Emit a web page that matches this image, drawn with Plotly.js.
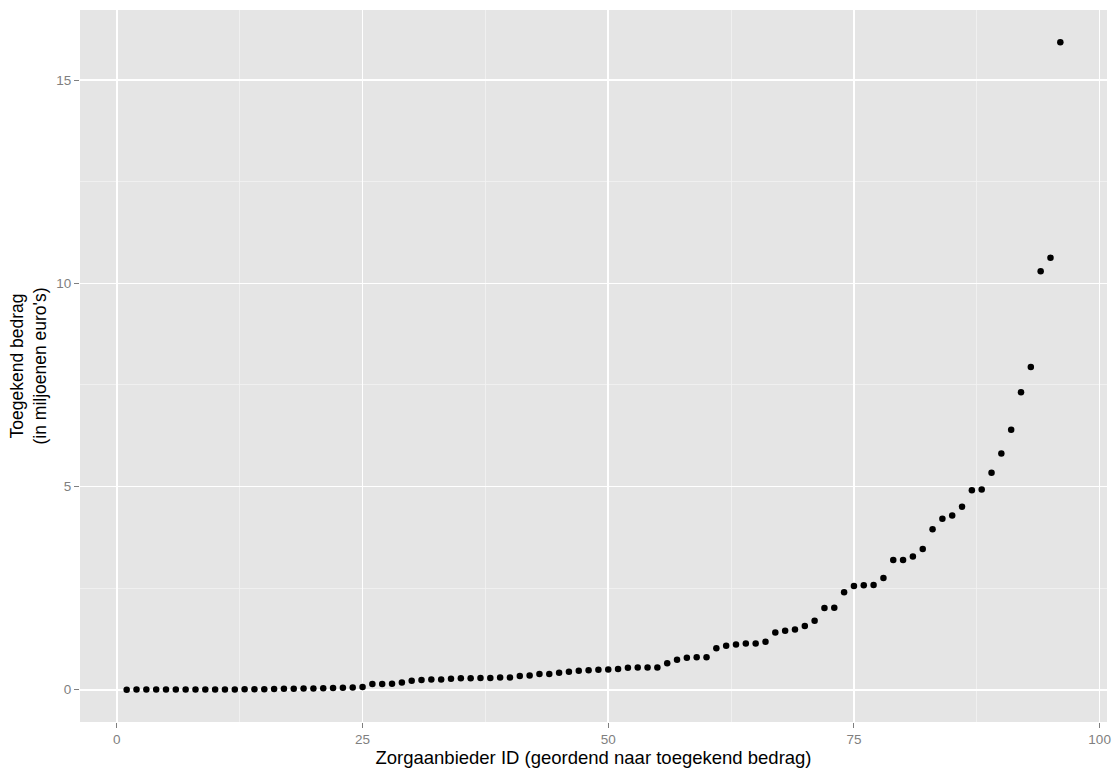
<!DOCTYPE html>
<html>
<head>
<meta charset="utf-8">
<script src="https://cdn.plot.ly/plotly-3.0.1.min.js"></script>
<style>
  html, body { margin: 0; padding: 0; background: #ffffff; }
  #chart { width: 1118px; height: 774px; }
</style>
</head>
<body>
<div id="chart"></div>
<script>
// Zorgaanbieder ID (ordered by awarded amount)
const providerIds = Array.from({length: 96}, (_, i) => i + 1);
// Awarded amount in millions of euros
const awardedAmounts = [
  0.002, 0.003, 0.003, 0.004, 0.004, 0.005, 0.005, 0.006, 0.006, 0.007,
  0.008, 0.008, 0.009, 0.010, 0.012, 0.015, 0.022, 0.025, 0.028, 0.032,
  0.038, 0.041, 0.047, 0.055, 0.068, 0.14, 0.14, 0.15, 0.18, 0.22,
  0.24, 0.25, 0.25, 0.27, 0.28, 0.28, 0.29, 0.29, 0.30, 0.30,
  0.34, 0.35, 0.39, 0.39, 0.42, 0.44, 0.47, 0.48, 0.49, 0.50,
  0.51, 0.54, 0.55, 0.55, 0.55, 0.65, 0.74, 0.79, 0.80, 0.80,
  1.02, 1.08, 1.11, 1.14, 1.14, 1.18, 1.41, 1.45, 1.48, 1.57,
  1.70, 2.01, 2.02, 2.40, 2.55, 2.57, 2.58, 2.75, 3.19, 3.19,
  3.28, 3.46, 3.95, 4.21, 4.29, 4.50, 4.91, 4.93, 5.34, 5.81,
  6.40, 7.32, 7.94, 10.30, 10.63, 15.93
];
const xTickVals = [0, 25, 50, 75, 100];
const xTickText = ['0', '25', '50', '75', '100'];
const yTickVals = [0, 5, 10, 15];
const yTickText = ['0', '5', '10', '15'];
const xTitle = 'Zorgaanbieder ID (geordend naar toegekend bedrag)';
const yTitle = 'Toegekend bedrag<br>(in miljoenen euro\'s)';

const FONT = '"Liberation Sans", Arial, Helvetica, sans-serif';

const trace = {
  type: 'scatter',
  mode: 'markers',
  x: providerIds,
  y: awardedAmounts,
  marker: { color: '#000000', size: 6.5, line: { width: 0 } },
  hoverinfo: 'x+y'
};

const axisCommon = {
  showline: false,
  zeroline: false,
  showgrid: true,
  gridcolor: '#ffffff',
  gridwidth: 1.6,
  ticks: 'outside',
  ticklen: 5,
  tickwidth: 1.1,
  tickcolor: '#7f7f7f',
  tickfont: { family: FONT, size: 13.5, color: '#7f7f7f' },
  tickmode: 'array'
};

const layout = {
  width: 1118,
  height: 774,
  paper_bgcolor: '#ffffff',
  plot_bgcolor: '#e5e5e5',
  margin: { l: 80, r: 11, t: 10, b: 52 },
  showlegend: false,
  font: { family: FONT },
  xaxis: Object.assign({}, axisCommon, {
    range: [-3.75, 100.75],
    tickvals: xTickVals,
    ticktext: xTickText,
    minor: { tickmode: 'linear', tick0: 12.5, dtick: 25, showgrid: true, gridcolor: '#f2f2f2', gridwidth: 0.8, ticks: '' },
    title: { text: xTitle, font: { family: FONT, size: 18.5, color: '#000000' }, standoff: 2 }
  }),
  yaxis: Object.assign({}, axisCommon, {
    range: [-0.794, 16.726],
    tickvals: yTickVals,
    ticktext: yTickText,
    minor: { tickmode: 'linear', tick0: 2.5, dtick: 5, showgrid: true, gridcolor: '#f2f2f2', gridwidth: 0.8, ticks: '' },
    title: { text: yTitle, font: { family: FONT, size: 17.5, color: '#000000' }, standoff: 5 }
  })
};

Plotly.newPlot('chart', [trace], layout, { displayModeBar: false, staticPlot: true });
</script>
</body>
</html>
